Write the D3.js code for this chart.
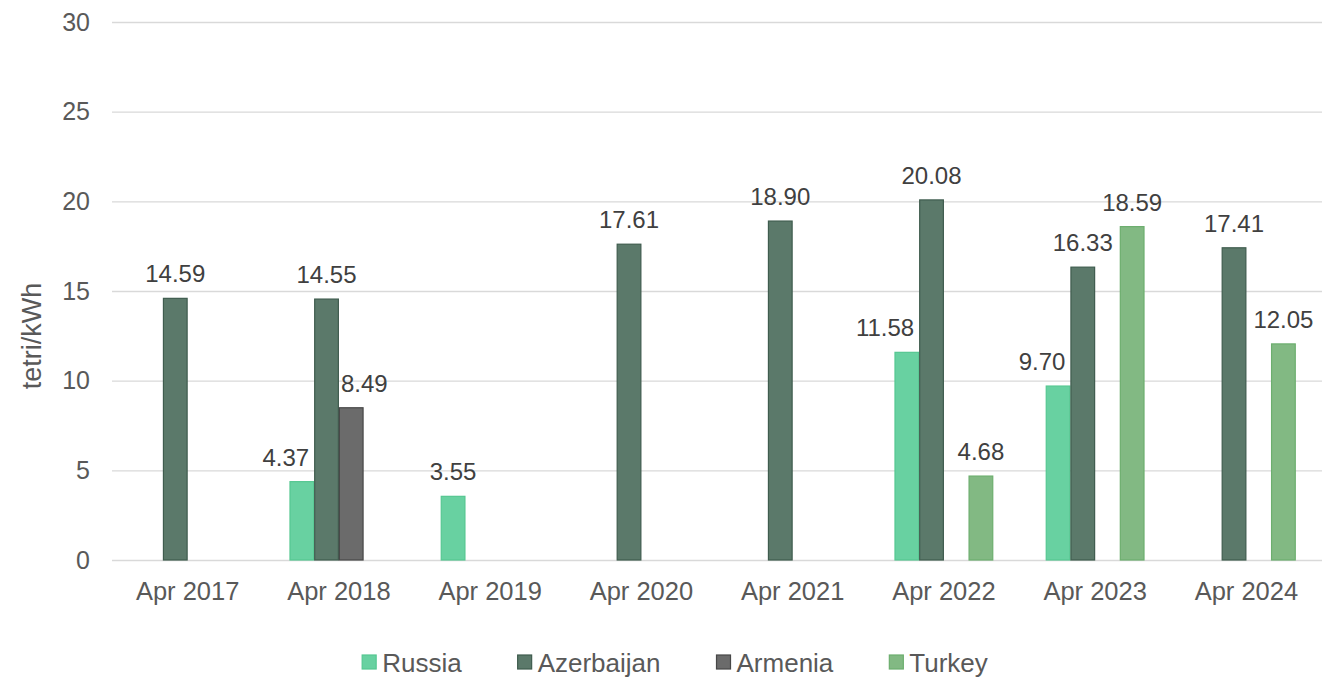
<!DOCTYPE html>
<html>
<head>
<meta charset="utf-8">
<script src="https://cdn.jsdelivr.net/npm/d3@7"></script>
<style>
  html, body { margin: 0; padding: 0; background: #fff; }
  svg { display: block; font-family: "Liberation Sans", Arial, sans-serif; }
</style>
</head>
<body>
<svg id="chart" width="1322" height="678"></svg>
<script>
// Monthly electricity import price by source country (tetri/kWh)
const categories = ["Apr 2017", "Apr 2018", "Apr 2019", "Apr 2020", "Apr 2021", "Apr 2022", "Apr 2023", "Apr 2024"];
const seriesNames = ["Russia", "Azerbaijan", "Armenia", "Turkey"];
const russia     = [null, 4.37, 3.55, null, null, 11.58, 9.70, null];
const azerbaijan = [14.59, 14.55, null, 17.61, 18.90, 20.08, 16.33, 17.41];
const armenia    = [null, 8.49, null, null, null, null, null, null];
const turkey     = [null, null, null, null, null, 4.68, 18.59, 12.05];
const yTicks = [0, 5, 10, 15, 20, 25, 30];

const seriesValues = [russia, azerbaijan, armenia, turkey];
const fills   = ["#68d1a1", "#5b796a", "#6b6b6b", "#82b983"];
const strokes = ["#55c791", "#3f5c4e", "#474747", "#6cae6e"];

const svg = d3.select("#chart");
const W = 1322, H = 678;
const margin = { left: 112, right: 0, top: 22, bottom: 118 };

const x = d3.scaleBand().domain(categories).range([margin.left, W - margin.right]).padding(0);
const y = d3.scaleLinear().domain([0, 30]).range([H - margin.bottom, margin.top]);

const groupW = x.bandwidth() * 0.653;
const xs = d3.scaleBand().domain(seriesNames).range([-groupW / 2, groupW / 2]).padding(0);

// horizontal gridlines
const yAxis = d3.axisLeft(y).tickValues(yTicks).tickSize(-(W - margin.left - margin.right)).tickPadding(22);
const gy = svg.append("g").attr("transform", `translate(${margin.left},0)`).call(yAxis);
gy.select(".domain").remove();
gy.selectAll(".tick line").attr("stroke", "#d9d9d9").attr("stroke-width", 1.4);
gy.selectAll(".tick text")
  .attr("fill", "#595959")
  .style("font-size", "25px")
  .attr("font-family", "Liberation Sans, Arial, sans-serif");

// category axis labels
const xAxis = d3.axisBottom(x).tickSize(0).tickPadding(22);
const gx = svg.append("g").attr("transform", `translate(0,${y(0)})`).call(xAxis);
gx.select(".domain").remove();
gx.selectAll(".tick text")
  .attr("fill", "#595959")
  .style("font-size", "25.5px")
  .attr("font-family", "Liberation Sans, Arial, sans-serif");

// flatten into bar records
const bars = [];
seriesNames.forEach((s, si) => {
  seriesValues[si].forEach((v, ci) => {
    if (v == null) return;
    bars.push({ series: s, si, ci, cat: categories[ci], value: v,
      x0: x(categories[ci]) + x.bandwidth() / 2 + xs(s), w: xs.bandwidth() });
  });
});

svg.append("g").selectAll("rect").data(bars).join("rect")
  .attr("x", d => d.x0 + 0.5)
  .attr("y", d => y(d.value))
  .attr("width", d => d.w - 1)
  .attr("height", d => y(0) - y(d.value))
  .attr("fill", d => fills[d.si])
  .attr("stroke", d => strokes[d.si])
  .attr("stroke-width", 1.2);

// value labels, nudged sideways when they would run into a taller neighbouring bar
const labels = svg.append("g").selectAll("text").data(bars).join("text")
  .attr("text-anchor", "middle")
  .attr("fill", "#404040")
  .style("font-size", "24px")
  .attr("y", d => y(d.value) - 16)
  .attr("x", d => d.x0 + d.w / 2)
  .text(d => d.value.toFixed(2));

labels.each(function (d) {
  const tw = this.getComputedTextLength();
  let cx = d.x0 + d.w / 2;
  const bottom = y(d.value) - 16;
  const neigh = bars.filter(b => b.ci === d.ci && Math.abs(b.si - d.si) === 1 && y(b.value) < bottom);
  neigh.forEach(b => {
    if (b.si > d.si && cx + tw / 2 > b.x0) cx = b.x0 - 5 - tw / 2;
    if (b.si < d.si && cx - tw / 2 < b.x0 + b.w) cx = b.x0 + b.w + 2 + tw / 2;
  });
  d3.select(this).attr("x", cx);
});

// y axis title
svg.append("text")
  .attr("transform", `translate(41,336) rotate(-90)`)
  .attr("text-anchor", "middle")
  .attr("fill", "#595959")
  .style("font-size", "27px")
  .text("tetri/kWh");

// legend
const legend = svg.append("g");
const items = legend.selectAll("g").data(seriesNames).join("g");
items.append("rect")
  .attr("width", 14).attr("height", 14)
  .attr("y", -7)
  .attr("fill", (d, i) => fills[i])
  .attr("stroke", (d, i) => strokes[i])
  .attr("stroke-width", 1.2);
items.append("text")
  .attr("x", 20).attr("y", 9.5)
  .attr("fill", "#595959")
  .style("font-size", "26px")
  .text(d => d);
let off = 0;
const widths = [];
items.each(function () {
  const tw = d3.select(this).select("text").node().getComputedTextLength();
  widths.push(20 + tw);
});
const gap = 56;
const total = d3.sum(widths) + gap * (widths.length - 1);
const start = 675 - total / 2;
items.attr("transform", (d, i) => {
  const t = `translate(${start + off},662)`;
  off += widths[i] + gap;
  return t;
});
</script>
</body>
</html>
